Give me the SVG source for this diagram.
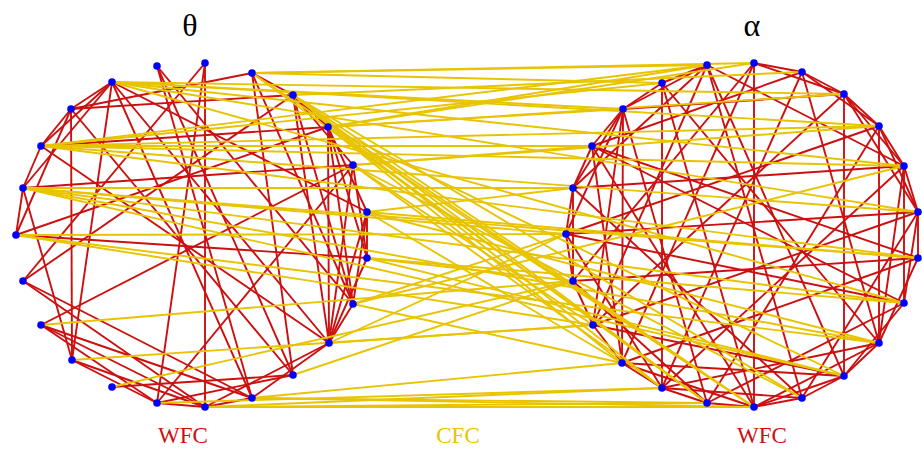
<svg xmlns="http://www.w3.org/2000/svg" width="922" height="449" viewBox="0 0 922 449">
<style>
.w line{stroke:#cc1010;stroke-width:1.9;fill:none}
.c line{stroke:#e8c400;stroke-width:1.9;fill:none}
.n{fill:#0000ff}
.t{font-family:"Liberation Serif","DejaVu Serif",serif;text-anchor:middle}
</style>
<rect width="922" height="449" fill="#ffffff"/>
<g id="connectors">
<g id="wfc-theta" class="w">
<line x1="112" y1="82" x2="71" y2="109"/><line x1="112" y1="82" x2="41" y2="146"/><line x1="112" y1="82" x2="23" y2="188"/><line x1="112" y1="82" x2="72" y2="360"/><line x1="112" y1="82" x2="367" y2="212"/><line x1="112" y1="82" x2="329" y2="343"/><line x1="112" y1="82" x2="252" y2="398"/>
<line x1="71" y1="109" x2="41" y2="146"/><line x1="71" y1="109" x2="72" y2="360"/><line x1="71" y1="109" x2="293" y2="95"/><line x1="71" y1="109" x2="252" y2="73"/><line x1="71" y1="109" x2="293" y2="375"/>
<line x1="41" y1="146" x2="23" y2="188"/><line x1="41" y1="146" x2="328" y2="127"/><line x1="41" y1="146" x2="329" y2="343"/>
<line x1="23" y1="188" x2="16" y2="235"/><line x1="23" y1="188" x2="353" y2="165"/><line x1="23" y1="188" x2="72" y2="360"/>
<line x1="16" y1="235" x2="367" y2="258"/><line x1="16" y1="235" x2="71" y2="109"/><line x1="16" y1="235" x2="328" y2="127"/>
<line x1="23" y1="281" x2="293" y2="95"/><line x1="23" y1="281" x2="252" y2="398"/><line x1="23" y1="281" x2="205" y2="407"/><line x1="23" y1="281" x2="205" y2="63"/>
<line x1="41" y1="325" x2="353" y2="165"/><line x1="41" y1="325" x2="252" y2="398"/><line x1="41" y1="325" x2="205" y2="407"/><line x1="41" y1="325" x2="157" y2="403"/>
<line x1="72" y1="360" x2="205" y2="407"/><line x1="72" y1="360" x2="157" y2="403"/>
<line x1="112" y1="387" x2="293" y2="375"/>
<line x1="157" y1="403" x2="205" y2="63"/><line x1="157" y1="403" x2="353" y2="165"/><line x1="157" y1="403" x2="205" y2="407"/>
<line x1="205" y1="407" x2="205" y2="63"/><line x1="205" y1="407" x2="329" y2="343"/><line x1="205" y1="407" x2="252" y2="398"/>
<line x1="252" y1="398" x2="157" y2="66"/><line x1="252" y1="398" x2="329" y2="343"/>
<line x1="293" y1="375" x2="252" y2="73"/><line x1="293" y1="375" x2="157" y2="403"/><line x1="293" y1="375" x2="157" y2="66"/>
<line x1="329" y1="343" x2="328" y2="127"/><line x1="329" y1="343" x2="353" y2="165"/><line x1="329" y1="343" x2="367" y2="212"/><line x1="329" y1="343" x2="367" y2="258"/><line x1="329" y1="343" x2="353" y2="304"/><line x1="329" y1="343" x2="293" y2="95"/>
<line x1="353" y1="304" x2="328" y2="127"/><line x1="353" y1="304" x2="293" y2="95"/><line x1="353" y1="304" x2="367" y2="212"/><line x1="353" y1="304" x2="157" y2="66"/>
<line x1="367" y1="258" x2="328" y2="127"/><line x1="367" y1="258" x2="353" y2="165"/><line x1="367" y1="258" x2="367" y2="212"/>
<line x1="367" y1="212" x2="328" y2="127"/><line x1="353" y1="165" x2="293" y2="95"/><line x1="328" y1="127" x2="293" y2="95"/><line x1="293" y1="95" x2="252" y2="73"/><line x1="252" y1="73" x2="353" y2="304"/>
</g>
<g id="wfc-alpha" class="w">
<line x1="754" y1="63" x2="754" y2="407"/><line x1="844" y1="94" x2="844" y2="376"/><line x1="662" y1="83" x2="662" y2="388"/><line x1="573" y1="188" x2="573" y2="281"/><line x1="918" y1="212" x2="918" y2="258"/><line x1="623" y1="109" x2="622" y2="363"/><line x1="904" y1="166" x2="904" y2="303"/>
<line x1="707" y1="65" x2="623" y2="109"/><line x1="707" y1="65" x2="573" y2="188"/><line x1="707" y1="65" x2="593" y2="325"/><line x1="707" y1="65" x2="802" y2="398"/><line x1="707" y1="65" x2="844" y2="376"/><line x1="707" y1="65" x2="904" y2="166"/>
<line x1="754" y1="63" x2="802" y2="72"/><line x1="754" y1="63" x2="844" y2="94"/><line x1="754" y1="63" x2="622" y2="363"/><line x1="754" y1="63" x2="573" y2="281"/>
<line x1="802" y1="72" x2="844" y2="94"/><line x1="802" y1="72" x2="879" y2="126"/><line x1="802" y1="72" x2="879" y2="343"/><line x1="802" y1="72" x2="662" y2="388"/><line x1="802" y1="72" x2="592" y2="146"/>
<line x1="844" y1="94" x2="879" y2="126"/><line x1="844" y1="94" x2="904" y2="166"/><line x1="844" y1="94" x2="918" y2="212"/><line x1="844" y1="94" x2="623" y2="109"/><line x1="844" y1="94" x2="593" y2="325"/>
<line x1="879" y1="126" x2="904" y2="166"/><line x1="879" y1="126" x2="918" y2="212"/><line x1="879" y1="126" x2="879" y2="343"/><line x1="879" y1="126" x2="566" y2="234"/><line x1="879" y1="126" x2="707" y2="403"/>
<line x1="904" y1="166" x2="918" y2="212"/><line x1="904" y1="166" x2="879" y2="343"/><line x1="904" y1="166" x2="573" y2="188"/><line x1="904" y1="166" x2="662" y2="388"/>
<line x1="918" y1="212" x2="904" y2="303"/><line x1="918" y1="212" x2="593" y2="325"/><line x1="918" y1="212" x2="802" y2="398"/><line x1="918" y1="212" x2="566" y2="234"/>
<line x1="918" y1="258" x2="879" y2="343"/><line x1="918" y1="258" x2="573" y2="281"/><line x1="918" y1="258" x2="622" y2="363"/><line x1="918" y1="258" x2="592" y2="146"/>
<line x1="904" y1="303" x2="844" y2="376"/><line x1="904" y1="303" x2="566" y2="234"/><line x1="904" y1="303" x2="707" y2="403"/>
<line x1="879" y1="343" x2="844" y2="376"/><line x1="879" y1="343" x2="662" y2="388"/><line x1="879" y1="343" x2="754" y2="407"/>
<line x1="844" y1="376" x2="802" y2="398"/><line x1="844" y1="376" x2="754" y2="407"/><line x1="844" y1="376" x2="622" y2="363"/><line x1="844" y1="376" x2="593" y2="325"/>
<line x1="802" y1="398" x2="754" y2="407"/><line x1="802" y1="398" x2="573" y2="188"/><line x1="802" y1="398" x2="662" y2="388"/>
<line x1="754" y1="407" x2="707" y2="403"/><line x1="754" y1="407" x2="622" y2="363"/><line x1="754" y1="407" x2="592" y2="146"/>
<line x1="707" y1="403" x2="662" y2="388"/><line x1="707" y1="403" x2="573" y2="281"/><line x1="707" y1="403" x2="623" y2="109"/>
<line x1="662" y1="388" x2="622" y2="363"/><line x1="662" y1="388" x2="566" y2="234"/>
<line x1="622" y1="363" x2="593" y2="325"/><line x1="622" y1="363" x2="592" y2="146"/>
<line x1="593" y1="325" x2="573" y2="281"/><line x1="593" y1="325" x2="623" y2="109"/>
<line x1="573" y1="281" x2="566" y2="234"/><line x1="566" y1="234" x2="573" y2="188"/><line x1="566" y1="234" x2="623" y2="109"/>
<line x1="573" y1="188" x2="592" y2="146"/><line x1="573" y1="188" x2="623" y2="109"/><line x1="592" y1="146" x2="623" y2="109"/><line x1="592" y1="146" x2="904" y2="303"/>
<line x1="623" y1="109" x2="662" y2="83"/><line x1="662" y1="83" x2="879" y2="343"/><line x1="662" y1="83" x2="754" y2="407"/><line x1="662" y1="83" x2="707" y2="65"/>
</g>
<g id="cfc" class="c">
<line x1="112" y1="82" x2="623" y2="109"/><line x1="112" y1="82" x2="844" y2="94"/><line x1="112" y1="82" x2="879" y2="126"/><line x1="112" y1="82" x2="904" y2="166"/><line x1="112" y1="82" x2="918" y2="212"/><line x1="112" y1="82" x2="904" y2="303"/>
<line x1="252" y1="73" x2="662" y2="83"/><line x1="252" y1="73" x2="707" y2="65"/><line x1="252" y1="73" x2="754" y2="63"/><line x1="252" y1="73" x2="707" y2="403"/><line x1="252" y1="73" x2="754" y2="407"/>
<line x1="41" y1="146" x2="662" y2="83"/><line x1="41" y1="146" x2="707" y2="65"/><line x1="41" y1="146" x2="592" y2="146"/><line x1="41" y1="146" x2="879" y2="126"/><line x1="41" y1="146" x2="904" y2="166"/><line x1="41" y1="146" x2="918" y2="258"/><line x1="41" y1="146" x2="918" y2="212"/>
<line x1="23" y1="188" x2="573" y2="188"/><line x1="23" y1="188" x2="566" y2="234"/><line x1="23" y1="188" x2="918" y2="258"/><line x1="23" y1="188" x2="904" y2="303"/><line x1="23" y1="188" x2="879" y2="343"/><line x1="23" y1="188" x2="844" y2="376"/>
<line x1="16" y1="235" x2="566" y2="234"/><line x1="16" y1="235" x2="879" y2="343"/><line x1="16" y1="235" x2="593" y2="325"/>
<line x1="41" y1="325" x2="573" y2="281"/><line x1="72" y1="360" x2="593" y2="325"/><line x1="112" y1="387" x2="573" y2="281"/><line x1="293" y1="375" x2="573" y2="281"/>
<line x1="329" y1="343" x2="593" y2="325"/><line x1="329" y1="343" x2="566" y2="234"/>
<line x1="252" y1="398" x2="707" y2="403"/><line x1="252" y1="398" x2="754" y2="407"/><line x1="252" y1="398" x2="622" y2="363"/>
<line x1="205" y1="407" x2="662" y2="388"/><line x1="205" y1="407" x2="707" y2="403"/><line x1="205" y1="407" x2="754" y2="407"/>
<line x1="157" y1="403" x2="662" y2="388"/>
<line x1="293" y1="95" x2="707" y2="403"/><line x1="293" y1="95" x2="754" y2="407"/><line x1="293" y1="95" x2="662" y2="388"/><line x1="293" y1="95" x2="802" y2="398"/><line x1="293" y1="95" x2="802" y2="72"/>
<line x1="328" y1="127" x2="707" y2="403"/><line x1="328" y1="127" x2="622" y2="363"/><line x1="328" y1="127" x2="844" y2="376"/><line x1="328" y1="127" x2="754" y2="407"/><line x1="328" y1="127" x2="707" y2="65"/><line x1="328" y1="127" x2="754" y2="63"/><line x1="328" y1="127" x2="844" y2="94"/><line x1="328" y1="127" x2="623" y2="109"/>
<line x1="353" y1="165" x2="662" y2="388"/><line x1="353" y1="165" x2="593" y2="325"/><line x1="353" y1="165" x2="802" y2="398"/><line x1="353" y1="165" x2="592" y2="146"/><line x1="353" y1="165" x2="879" y2="126"/>
<line x1="367" y1="212" x2="622" y2="363"/><line x1="367" y1="212" x2="879" y2="343"/><line x1="367" y1="212" x2="918" y2="258"/><line x1="367" y1="212" x2="573" y2="188"/>
<line x1="367" y1="258" x2="844" y2="376"/><line x1="367" y1="258" x2="904" y2="303"/><line x1="367" y1="258" x2="573" y2="281"/>
<line x1="353" y1="304" x2="622" y2="363"/><line x1="353" y1="304" x2="566" y2="234"/><line x1="353" y1="304" x2="904" y2="166"/>
</g>
</g>
<g id="nodes-theta">
<circle id="t0" class="n" cx="157" cy="66" r="3.8"/><circle id="t1" class="n" cx="205" cy="63" r="3.8"/><circle id="t2" class="n" cx="252" cy="73" r="3.8"/><circle id="t3" class="n" cx="293" cy="95" r="3.8"/><circle id="t4" class="n" cx="328" cy="127" r="3.8"/><circle id="t5" class="n" cx="353" cy="165" r="3.8"/><circle id="t6" class="n" cx="367" cy="212" r="3.8"/><circle id="t7" class="n" cx="367" cy="258" r="3.8"/><circle id="t8" class="n" cx="353" cy="304" r="3.8"/><circle id="t9" class="n" cx="329" cy="343" r="3.8"/><circle id="t10" class="n" cx="293" cy="375" r="3.8"/><circle id="t11" class="n" cx="252" cy="398" r="3.8"/><circle id="t12" class="n" cx="205" cy="407" r="3.8"/><circle id="t13" class="n" cx="157" cy="403" r="3.8"/><circle id="t14" class="n" cx="112" cy="387" r="3.8"/><circle id="t15" class="n" cx="72" cy="360" r="3.8"/><circle id="t16" class="n" cx="41" cy="325" r="3.8"/><circle id="t17" class="n" cx="23" cy="281" r="3.8"/><circle id="t18" class="n" cx="16" cy="235" r="3.8"/><circle id="t19" class="n" cx="23" cy="188" r="3.8"/><circle id="t20" class="n" cx="41" cy="146" r="3.8"/><circle id="t21" class="n" cx="71" cy="109" r="3.8"/><circle id="t22" class="n" cx="112" cy="82" r="3.8"/>
</g>
<g id="nodes-alpha">
<circle id="a0" class="n" cx="707" cy="65" r="3.8"/><circle id="a1" class="n" cx="754" cy="63" r="3.8"/><circle id="a2" class="n" cx="802" cy="72" r="3.8"/><circle id="a3" class="n" cx="844" cy="94" r="3.8"/><circle id="a4" class="n" cx="879" cy="126" r="3.8"/><circle id="a5" class="n" cx="904" cy="166" r="3.8"/><circle id="a6" class="n" cx="918" cy="212" r="3.8"/><circle id="a7" class="n" cx="918" cy="258" r="3.8"/><circle id="a8" class="n" cx="904" cy="303" r="3.8"/><circle id="a9" class="n" cx="879" cy="343" r="3.8"/><circle id="a10" class="n" cx="844" cy="376" r="3.8"/><circle id="a11" class="n" cx="802" cy="398" r="3.8"/><circle id="a12" class="n" cx="754" cy="407" r="3.8"/><circle id="a13" class="n" cx="707" cy="403" r="3.8"/><circle id="a14" class="n" cx="662" cy="388" r="3.8"/><circle id="a15" class="n" cx="622" cy="363" r="3.8"/><circle id="a16" class="n" cx="593" cy="325" r="3.8"/><circle id="a17" class="n" cx="573" cy="281" r="3.8"/><circle id="a18" class="n" cx="566" cy="234" r="3.8"/><circle id="a19" class="n" cx="573" cy="188" r="3.8"/><circle id="a20" class="n" cx="592" cy="146" r="3.8"/><circle id="a21" class="n" cx="623" cy="109" r="3.8"/><circle id="a22" class="n" cx="662" cy="83" r="3.8"/>
</g>
<g id="labels">
<text class="t" x="190" y="36" font-size="32" fill="#000000">θ</text>
<text class="t" x="752" y="36" font-size="32" fill="#000000">α</text>
<text class="t" x="183" y="443" font-size="23" fill="#cc1010">WFC</text>
<text class="t" x="458" y="443" font-size="23" fill="#e8c400">CFC</text>
<text class="t" x="762" y="443" font-size="23" fill="#cc1010">WFC</text>
</g>
</svg>
